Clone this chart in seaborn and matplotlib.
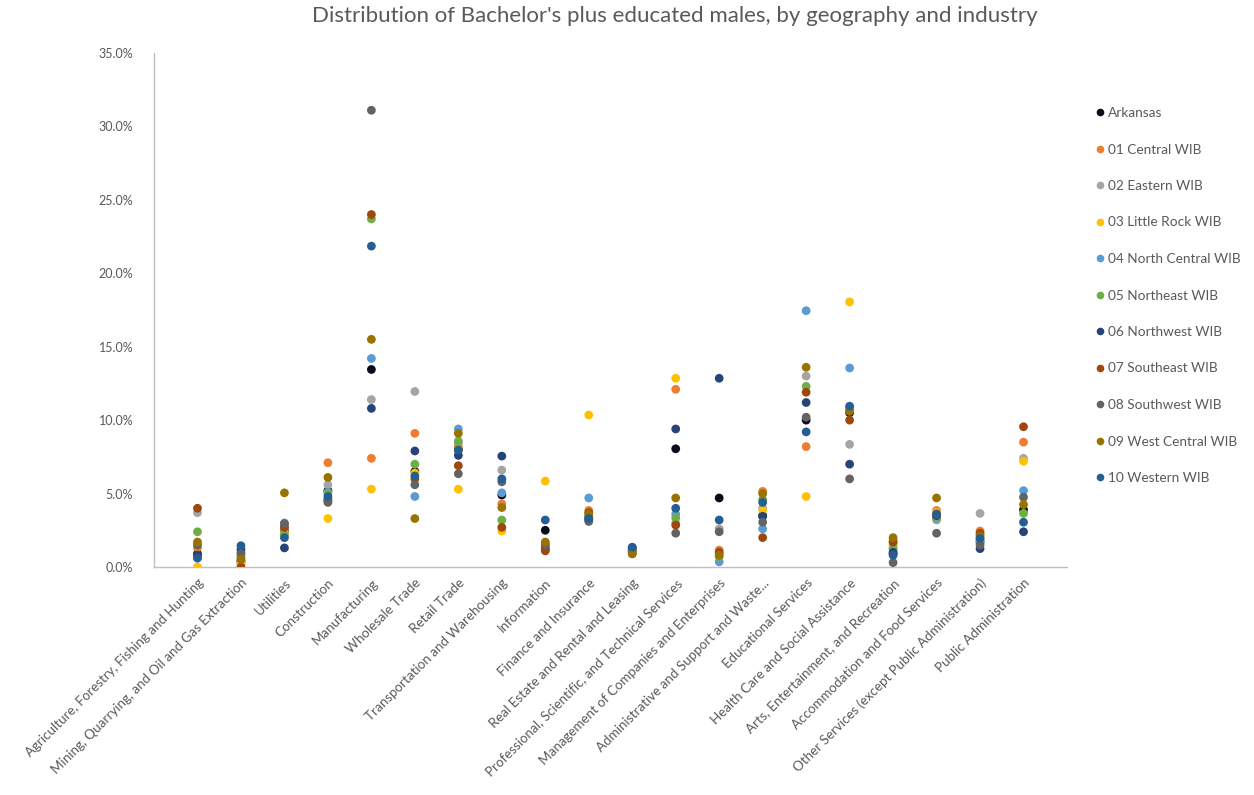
import matplotlib
matplotlib.use("Agg")
import matplotlib.pyplot as plt
from matplotlib.lines import Line2D
from matplotlib.ticker import PercentFormatter, FixedLocator
import numpy as np
import pandas as pd
import seaborn as sns

industries = [
    "Agriculture, Forestry, Fishing and Hunting",
    "Mining, Quarrying, and Oil and Gas Extraction",
    "Utilities",
    "Construction",
    "Manufacturing",
    "Wholesale Trade",
    "Retail Trade",
    "Transportation and Warehousing",
    "Information",
    "Finance and Insurance",
    "Real Estate and Rental and Leasing",
    "Professional, Scientific, and Technical Services",
    "Management of Companies and Enterprises",
    "Administrative and Support and Waste...",
    "Educational Services",
    "Health Care and Social Assistance",
    "Arts, Entertainment, and Recreation",
    "Accommodation and Food Services",
    "Other Services (except Public Administration)",
    "Public Administration",
]

geographies = [
    "Arkansas", "01 Central WIB", "02 Eastern WIB", "03 Little Rock WIB",
    "04 North Central WIB", "05 Northeast WIB", "06 Northwest WIB",
    "07 Southeast WIB", "08 Southwest WIB", "09 West Central WIB",
    "10 Western WIB",
]

# Share of Bachelor's-plus educated males in each industry (percent)
arkansas        = [0.9, 0.4, 2.5, 5.2, 13.45, 6.5, 8.0, 4.9, 2.5, 3.4, 1.1, 8.05, 4.7, 3.5, 10.0, 10.5, 0.9, 3.5, 1.7, 3.9]
central         = [1.3, 0.2, 2.8, 7.1, 7.4, 9.1, 8.2, 4.3, 1.4, 3.85, 1.0, 12.1, 1.15, 5.15, 8.2, 10.8, 1.8, 3.85, 2.45, 8.5]
eastern         = [3.7, 0.6, 2.6, 5.6, 11.4, 11.95, 8.6, 6.6, 1.5, 3.5, 1.2, 3.0, 2.6, 4.0, 13.0, 8.35, 1.6, 3.2, 3.65, 7.4]
little_rock     = [0.0, 0.3, 2.3, 3.3, 5.3, 6.4, 5.3, 2.45, 5.85, 10.35, 1.0, 12.85, 0.9, 3.85, 4.8, 18.05, 1.5, 3.7, 2.2, 7.2]
north_central   = [0.7, 1.0, 3.0, 5.1, 14.2, 4.8, 9.4, 5.05, 1.3, 4.7, 1.3, 3.6, 0.35, 2.6, 17.45, 13.55, 1.2, 3.3, 1.8, 5.2]
northeast       = [2.4, 0.7, 2.2, 5.0, 23.7, 7.0, 8.5, 3.2, 1.6, 3.3, 1.2, 3.35, 0.7, 4.6, 12.3, 10.7, 1.3, 3.4, 1.9, 3.65]
northwest       = [0.8, 1.2, 1.3, 4.6, 10.8, 7.9, 7.6, 7.55, 1.2, 3.2, 1.3, 9.4, 12.85, 3.45, 11.2, 7.0, 1.0, 3.5, 1.25, 2.4]
southeast       = [4.0, 0.0, 2.7, 4.5, 24.0, 6.0, 6.9, 2.7, 1.1, 3.7, 0.9, 2.85, 1.0, 2.0, 11.9, 10.0, 1.7, 3.6, 2.3, 9.55]
southwest       = [1.5, 0.9, 2.95, 4.4, 31.1, 5.6, 6.35, 5.8, 1.5, 3.1, 1.1, 2.3, 2.4, 3.05, 10.2, 6.0, 0.3, 2.3, 1.5, 4.75]
west_central    = [1.7, 0.5, 5.05, 6.1, 15.5, 3.3, 9.1, 4.05, 1.7, 3.6, 0.9, 4.7, 0.8, 5.0, 13.6, 10.6, 2.0, 4.7, 2.1, 4.25]
western         = [0.6, 1.45, 2.0, 4.8, 21.85, 6.2, 7.95, 6.0, 3.2, 3.3, 1.35, 4.0, 3.2, 4.4, 9.2, 10.95, 0.8, 3.6, 1.95, 3.05]

series = [arkansas, central, eastern, little_rock, north_central, northeast,
          northwest, southeast, southwest, west_central, western]

colors = ["#0b0b1a", "#ED7D31", "#A5A5A5", "#FFC000", "#5B9BD5", "#70AD47",
          "#264478", "#9E480E", "#636363", "#997300", "#255E91"]

rows = []
for geo, vals in zip(geographies, series):
    for ind, v in zip(industries, vals):
        rows.append({"Industry": ind, "Geography": geo, "Share": v / 100.0})
df = pd.DataFrame(rows)

sns.set_theme(style="white")
plt.rcParams["font.family"] = ["Lato", "DejaVu Sans"]

text_gray = "#595959"
axis_gray = "#BFBFBF"

fig = plt.figure(figsize=(12.54, 7.95), dpi=100)
ax = fig.add_axes([154 / 1254, 1 - 567 / 795, (1067 - 154) / 1254, (567 - 53) / 795])

sns.stripplot(
    data=df, x="Industry", y="Share", hue="Geography",
    order=industries, hue_order=geographies, palette=colors,
    jitter=False, dodge=False, size=6.3, linewidth=0, legend=False, ax=ax,
)

ax.set_xlim(-1, 20)
ax.set_ylim(0, 0.35)
ax.yaxis.set_major_locator(FixedLocator(np.arange(0, 0.351, 0.05)))
ax.yaxis.set_major_formatter(PercentFormatter(1.0, decimals=1))
ax.tick_params(axis="y", length=0, pad=15, labelsize=9, labelcolor=text_gray)

ax.set_xticks(range(len(industries)))
ax.set_xticklabels(industries, rotation=45, ha="right", rotation_mode="anchor",
                   fontsize=9.6, color=text_gray)
ax.tick_params(axis="x", length=0, pad=7)
ax.set_xticks([4, 9, 14, 19], minor=True)
ax.tick_params(axis="x", which="minor", length=5, width=0.8, color=axis_gray, direction="out")

ax.set_xlabel("")
ax.set_ylabel("")
for side in ["top", "right"]:
    ax.spines[side].set_visible(False)
for side in ["left", "bottom"]:
    ax.spines[side].set_color(axis_gray)
    ax.spines[side].set_linewidth(1.0)
ax.grid(False)

fig.suptitle("Distribution of Bachelor's plus educated males, by geography and industry",
             x=675 / 1254, y=1 - 6 / 795, va="top", fontsize=16, color=text_gray)

handles = [Line2D([0], [0], marker="o", linestyle="none", markersize=5.5,
                  markerfacecolor=c, markeredgewidth=0) for c in colors]
fig.legend(handles, geographies, loc="upper left",
           bbox_to_anchor=(1096 / 1254, 1 - 107 / 795), frameon=False,
           fontsize=9.8, labelcolor=text_gray, labelspacing=1.8,
           handlelength=0.6, handletextpad=0.25, borderpad=0, borderaxespad=0)

fig.savefig("out.png", dpi=100, facecolor="white")
